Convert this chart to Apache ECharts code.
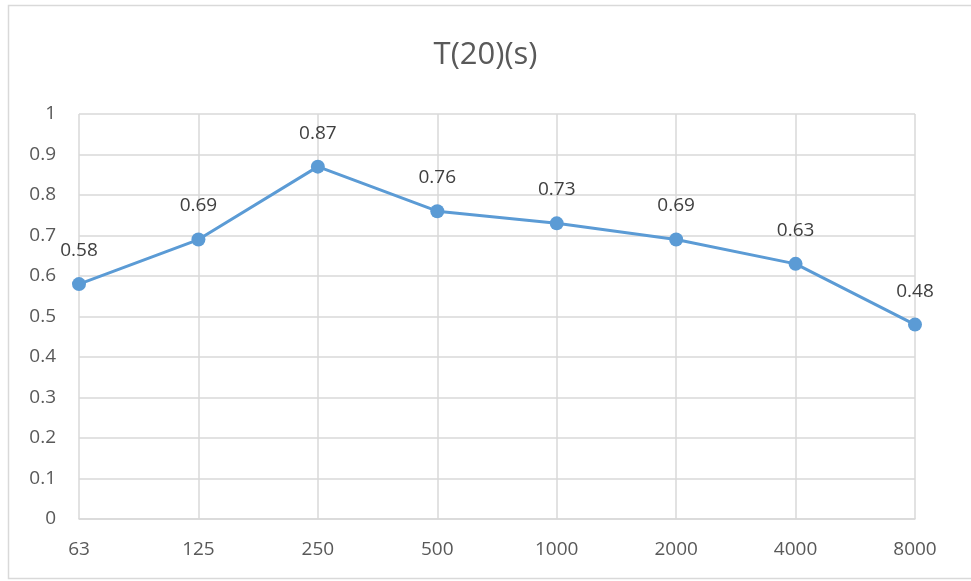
<!DOCTYPE html>
<html>
<head>
<meta charset="utf-8">
<script src="https://cdn.jsdelivr.net/npm/echarts@6/dist/echarts.min.js"></script>
<style>
  html, body { margin: 0; padding: 0; background: #fff; }
  #chart { width: 971px; height: 581px; }
</style>
</head>
<body>
<div id="chart"></div>
<script>
// Octave-band centre frequencies (Hz) and reverberation time T(20) in seconds
const frequencies = ['63', '125', '250', '500', '1000', '2000', '4000', '8000'];
const t20Values = [0.58, 0.69, 0.87, 0.76, 0.73, 0.69, 0.63, 0.48];
const chartTitle = 'T(20)(s)';

const FONT = '"Open Sans", "Noto Sans", sans-serif';
const gridColor = '#d9d9d9';
const textColor = '#595959';
const lineColor = '#5b9bd5';

const chart = echarts.init(document.getElementById('chart'));
chart.setOption({
  backgroundColor: '#fff',
  animation: false,
  title: {
    text: chartTitle,
    left: 'center',
    top: 35,
    textStyle: { fontFamily: FONT, fontSize: 31, fontWeight: 'normal', color: textColor }
  },
  graphic: [{
    type: 'rect',
    shape: { x: 8.5, y: 5.5, width: 1000, height: 573 },
    style: { fill: 'none', stroke: gridColor, lineWidth: 1.5 },
    silent: true
  }],
  grid: { left: 79, right: 56, top: 114, bottom: 62 },
  xAxis: {
    type: 'category',
    data: frequencies,
    boundaryGap: false,
    axisLine: { lineStyle: { color: gridColor, width: 1.5 } },
    axisTick: { show: false },
    axisLabel: { color: textColor, fontFamily: FONT, fontSize: 19, margin: 21 },
    splitLine: { show: true, lineStyle: { color: gridColor, width: 1.5 } }
  },
  yAxis: {
    type: 'value',
    min: 0,
    max: 1,
    interval: 0.1,
    axisLine: { show: false },
    axisTick: { show: false },
    axisLabel: { color: textColor, fontFamily: FONT, fontSize: 19, margin: 23 },
    splitLine: { lineStyle: { color: gridColor, width: 1.5 } }
  },
  series: [{
    type: 'line',
    data: t20Values,
    symbol: 'circle',
    symbolSize: 14,
    lineStyle: { color: lineColor, width: 3 },
    itemStyle: { color: lineColor },
    label: {
      show: true,
      position: 'top',
      distance: 17,
      color: '#404040',
      fontFamily: FONT,
      fontSize: 19
    }
  }]
});
</script>
</body>
</html>
